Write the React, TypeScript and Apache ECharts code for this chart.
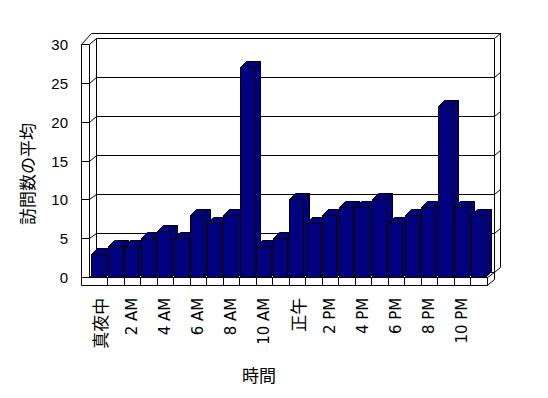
import React, { useEffect, useRef } from 'react';
import * as echarts from 'echarts';

const hours = ['真夜中', '1 AM', '2 AM', '3 AM', '4 AM', '5 AM', '6 AM', '7 AM', '8 AM', '9 AM', '10 AM', '11 AM',
  '正午', '1 PM', '2 PM', '3 PM', '4 PM', '5 PM', '6 PM', '7 PM', '8 PM', '9 PM', '10 PM', '11 PM'];
const visits = [3, 4, 4, 5, 6, 5, 8, 7, 8, 27, 4, 5, 10, 7, 8, 9, 9, 10, 7, 8, 9, 22, 9, 8];
const yTicks = [0, 5, 10, 15, 20, 25, 30];
const xTitle = '時間';
const yTitle = '訪問数の平均';

const FONT = "'Liberation Sans', Arial, 'Noto Sans CJK JP', sans-serif";
const XFONT = "'DejaVu Sans', 'Noto Sans CJK JP', sans-serif";
const CJK = "'Noto Sans CJK JP', sans-serif";
const snap = (v: number) => Math.floor(v) + 0.5;

export default function App() {
  const ref = useRef<HTMLDivElement>(null);
  useEffect(() => {
    if (!ref.current) return;
    const chart = echarts.init(ref.current, undefined, { renderer: 'svg' });
    const lineStyle = { stroke: '#000', lineWidth: 1, fill: 'none' };

    const frameRender = (params: any, api: any) => {
      const cs = params.coordSys;
      const L = cs.x;
      const R = cs.x + cs.width;
      const y0 = api.coord([0, 0])[1];
      const yTop = api.coord([0, yTicks[yTicks.length - 1]])[1];
      const DX = 7, DY = -5.5;
      const TX = 6, TY = -5;
      const wallIn = L - 2, wallOut = L - 10;
      const floorB = y0 + 7.3;
      const bxL = wallIn + DX, bxR = R + DX;
      const children: any[] = [];
      const ln = (x1: number, y1: number, x2: number, y2: number) =>
        children.push({
          type: 'line',
          shape: { x1: snap(x1), y1: snap(y1), x2: snap(x2), y2: snap(y2) },
          style: lineStyle,
        });
      yTicks.forEach((v) => {
        const yf = api.coord([0, v])[1];
        const yb = yf + DY;
        ln(wallOut, yf, wallIn, yf);
        ln(wallIn, yf, bxL, yb);
        ln(bxL, yb, bxR, yb);
        ln(bxR, yb, bxR + TX, yb + TY);
      });
      const outerTop = yTop + DY + TY;
      ln(wallOut, yTop, wallOut, floorB);
      ln(wallIn, yTop, wallIn, y0);
      ln(wallOut, yTop, wallOut + 10, outerTop);
      ln(wallOut + 10, outerTop, bxR + TX, outerTop);
      ln(bxL, yTop + DY, bxL, y0 + DY);
      ln(bxR, yTop + DY, bxR, y0 + DY + 7.3);
      ln(bxR + TX, outerTop, bxR + TX, y0 + DY + TY);
      // floor
      ln(wallIn, y0, R, y0);
      ln(wallOut, floorB, R, floorB);
      ln(R, y0, R, floorB);
      ln(R, y0, bxR, y0 + DY);
      ln(R, floorB, bxR, floorB + DY);
      const band = cs.width / hours.length;
      for (let k = 1; k < hours.length; k++) {
        const x = L + k * band;
        ln(x, y0, x, floorB);
      }
      return { type: 'group', children };
    };

    const barRender = (params: any, api: any) => {
      const idx = api.value(0);
      const v = api.value(1);
      const c = api.coord([idx, v]);
      const yb = snap(api.coord([idx, 0])[1]);
      const band = api.size([1, 0])[0];
      const x0 = snap(c[0] - band / 2 + 0.5);
      const yt = snap(c[1]);
      const w = Math.round(band * 0.82);
      const dx = 6, dy = -6;
      const style = { fill: '#000080', stroke: '#000', lineWidth: 1 };
      return {
        type: 'group',
        children: [
          { type: 'polygon', shape: { points: [[x0 + w, yb], [x0 + w, yt], [x0 + w + dx, yt + dy], [x0 + w + dx, yb + dy]] }, style },
          { type: 'polygon', shape: { points: [[x0, yt], [x0 + w, yt], [x0 + w + dx, yt + dy], [x0 + dx, yt + dy]] }, style },
          { type: 'rect', shape: { x: x0, y: yt, width: w, height: yb - yt }, style },
        ],
      };
    };

    chart.setOption({
      animation: false,
      backgroundColor: '#fff',
      grid: { left: 91, right: 61, top: 44.3, bottom: 120.3, containLabel: false },
      xAxis: {
        type: 'category',
        data: hours,
        axisLine: { show: false },
        axisTick: { show: false },
        splitLine: { show: false },
        axisLabel: {
          interval: 1, rotate: 90, margin: 20, fontSize: 15, color: '#000', fontFamily: XFONT,
          formatter: (s: string) => (/[\u3000-\u9fff]/.test(s) ? `{cjk|${s}}` : s),
          rich: { cjk: { fontSize: 17, fontFamily: CJK, color: '#000' } },
        },
      },
      yAxis: {
        type: 'value',
        min: 0,
        max: 30,
        interval: 5,
        axisLine: { show: false },
        axisTick: { show: false },
        splitLine: { show: false },
        axisLabel: { margin: 23, fontSize: 15, color: '#000', fontFamily: FONT },
      },
      graphic: [
        {
          type: 'text', x: 259, y: 376,
          style: { text: xTitle, fontSize: 17, fill: '#000', fontFamily: FONT, textAlign: 'center', textVerticalAlign: 'middle' },
        },
        {
          type: 'text', x: 28.5, y: 174, rotation: Math.PI / 2,
          style: { text: yTitle, fontSize: 17, fill: '#000', fontFamily: FONT, textAlign: 'center', textVerticalAlign: 'middle' },
        },
      ],
      series: [
        { type: 'custom', name: 'frame', renderItem: frameRender, data: [[0, 0]], z: 1, silent: true },
        {
          type: 'custom', name: '訪問数の平均', renderItem: barRender,
          data: visits.map((v, i) => [i, v]), encode: { x: 0, y: 1 }, z: 5,
        },
      ],
    });
    return () => chart.dispose();
  }, []);
  return <div ref={ref} style={{ position: 'fixed', left: 0, top: 0, width: 548, height: 398, background: '#fff' }} />;
}
